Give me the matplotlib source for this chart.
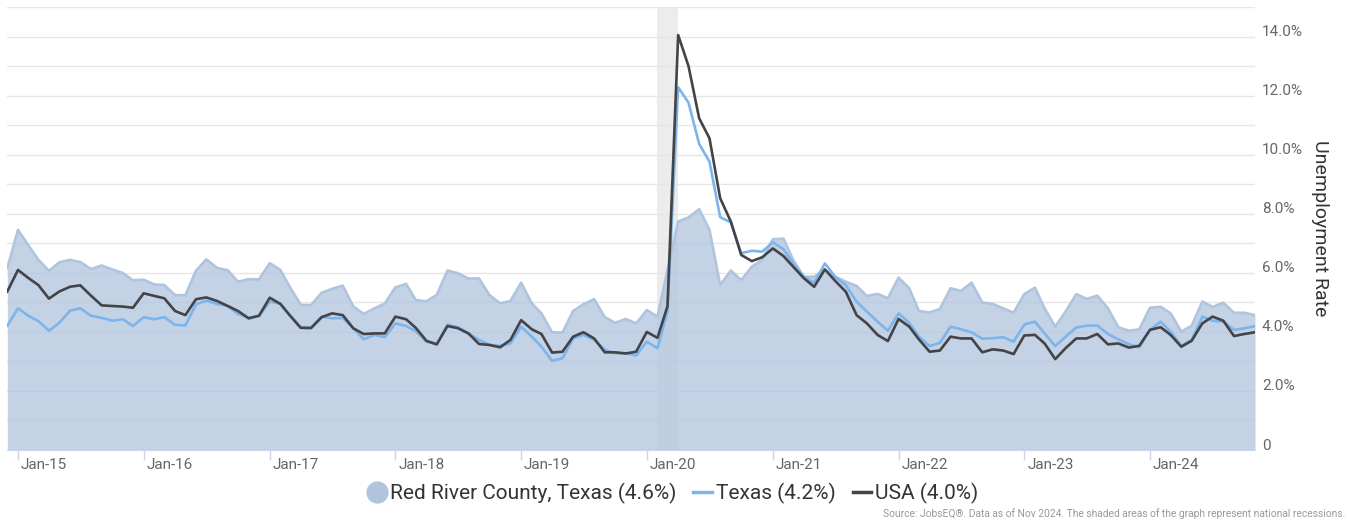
import matplotlib
matplotlib.use("Agg")
import matplotlib.pyplot as plt
import matplotlib.transforms as mtransforms
from matplotlib.lines import Line2D
import pandas as pd

# monthly unemployment rate (%), Dec 2014 - Nov 2024
months = pd.date_range("2014-12-01", periods=120, freq="MS")

red_river = [
    6.16, 7.46, 6.92, 6.45, 6.07, 6.36, 6.44, 6.37, 6.13, 6.25,
    6.12, 6.00, 5.75, 5.77, 5.61, 5.59, 5.25, 5.24, 6.08, 6.46,
    6.17, 6.09, 5.70, 5.79, 5.78, 6.33, 6.10, 5.51, 4.92, 4.91,
    5.33, 5.46, 5.57, 4.86, 4.61, 4.80, 4.96, 5.51, 5.63, 5.08,
    5.04, 5.25, 6.08, 5.99, 5.81, 5.81, 5.25, 4.97, 5.05, 5.67,
    4.97, 4.63, 3.99, 3.98, 4.71, 4.94, 5.11, 4.50, 4.31, 4.44,
    4.29, 4.74, 4.52, 6.10, 7.74, 7.88, 8.16, 7.46, 5.59, 6.08,
    5.76, 6.21, 6.44, 7.14, 7.16, 6.44, 5.87, 5.87, 6.10, 5.87,
    5.70, 5.56, 5.22, 5.29, 5.14, 5.84, 5.48, 4.71, 4.66, 4.78,
    5.48, 5.39, 5.67, 5.00, 4.95, 4.80, 4.65, 5.28, 5.50, 4.80,
    4.18, 4.69, 5.28, 5.12, 5.23, 4.80, 4.16, 4.04, 4.09, 4.82,
    4.85, 4.63, 4.01, 4.21, 5.03, 4.85, 4.99, 4.65, 4.65, 4.57,
]

texas = [
    4.21, 4.80, 4.54, 4.37, 4.04, 4.31, 4.72, 4.80, 4.55, 4.48,
    4.38, 4.43, 4.20, 4.50, 4.43, 4.50, 4.24, 4.22, 4.94, 5.06,
    4.95, 4.88, 4.61, 4.48, 4.54, 5.03, 4.95, 4.57, 4.16, 4.16,
    4.52, 4.46, 4.47, 4.12, 3.75, 3.90, 3.82, 4.29, 4.20, 4.03,
    3.67, 3.58, 4.25, 4.16, 3.95, 3.73, 3.56, 3.53, 3.61, 4.18,
    3.84, 3.50, 3.02, 3.11, 3.78, 3.90, 3.73, 3.39, 3.28, 3.28,
    3.20, 3.67, 3.45, 4.70, 12.29, 11.77, 10.37, 9.77, 7.89, 7.71,
    6.67, 6.75, 6.72, 7.04, 6.80, 6.32, 5.87, 5.67, 6.32, 5.87,
    5.58, 5.03, 4.69, 4.35, 4.04, 4.63, 4.31, 3.84, 3.52, 3.63,
    4.18, 4.09, 3.99, 3.77, 3.79, 3.82, 3.67, 4.25, 4.35, 3.95,
    3.52, 3.84, 4.15, 4.21, 4.22, 3.93, 3.75, 3.58, 3.48, 4.07,
    4.35, 4.01, 3.53, 3.73, 4.52, 4.38, 4.35, 4.07, 4.12, 4.20,
]

usa = [
    5.37, 6.10, 5.82, 5.59, 5.13, 5.37, 5.53, 5.58, 5.23, 4.90,
    4.88, 4.86, 4.82, 5.31, 5.22, 5.14, 4.71, 4.57, 5.11, 5.17,
    5.05, 4.88, 4.71, 4.46, 4.55, 5.16, 4.95, 4.55, 4.14, 4.13,
    4.50, 4.63, 4.57, 4.12, 3.93, 3.95, 3.95, 4.52, 4.43, 4.14,
    3.70, 3.58, 4.20, 4.13, 3.95, 3.59, 3.56, 3.48, 3.73, 4.40,
    4.09, 3.93, 3.30, 3.33, 3.84, 3.99, 3.78, 3.31, 3.31, 3.27,
    3.33, 4.00, 3.80, 4.87, 14.06, 13.01, 11.24, 10.56, 8.53, 7.74,
    6.61, 6.40, 6.53, 6.83, 6.57, 6.21, 5.82, 5.53, 6.12, 5.73,
    5.36, 4.57, 4.29, 3.90, 3.69, 4.44, 4.18, 3.75, 3.33, 3.37,
    3.84, 3.78, 3.78, 3.31, 3.41, 3.37, 3.25, 3.88, 3.90, 3.61,
    3.08, 3.45, 3.78, 3.78, 3.93, 3.58, 3.61, 3.47, 3.53, 4.07,
    4.16, 3.90, 3.50, 3.70, 4.29, 4.52, 4.38, 3.86, 3.93, 3.99,
]

year_ticks = pd.date_range("2015-01-01", "2024-01-01", freq="YS")
year_labels = [d.strftime("Jan-%y") for d in year_ticks]
recession = (pd.Timestamp("2020-02-01"), pd.Timestamp("2020-04-01"))
legend_labels = ["Red River County, Texas (4.6%)", "Texas (4.2%)", "USA (4.0%)"]

plt.rcParams["font.family"] = ["Roboto", "DejaVu Sans"]

W, H = 1348, 522
fig = plt.figure(figsize=(W / 100, H / 100), dpi=100)
ax = fig.add_axes([7.3 / W, 72 / H, (1255 - 7.3) / W, (450 - 7.3) / H])

ax.axvspan(recession[0], recession[1], color="#ececec", lw=0, zorder=0)
ax.fill_between(months, red_river, 0, color="#b0c4de", alpha=0.75, lw=0, zorder=2)
ax.plot(months, red_river, color="#b0c4de", lw=1.9, zorder=3)
ax.plot(months, texas, color="#7cb5ec", lw=1.9, zorder=4)
ax.plot(months, usa, color="#434348", lw=1.9, zorder=5)

ax.set_xlim(months[0], months[-1])
ax.set_ylim(0, 15)

# y axis on the right, grid every 1%, labels every 2%
ax.yaxis.tick_right()
ax.set_yticks(range(0, 16, 2))
ax.set_yticks(range(0, 16), minor=True)
ax.set_yticklabels(["0"] + [f"{v:.1f}%" for v in range(2, 16, 2)])
ax.grid(axis="y", which="both", color="#e6e6e6", lw=1, zorder=1)
ax.tick_params(axis="y", which="both", length=0, pad=5, labelsize=11, labelcolor="#666666")
for lab in ax.get_yticklabels():
    lab.set_horizontalalignment("left")
    lab.set_transform(lab.get_transform() + mtransforms.ScaledTranslation(0, 6 / 100, fig.dpi_scale_trans))

ax.set_xticks(year_ticks)
ax.set_xticklabels(year_labels)
ax.tick_params(axis="x", length=7, width=1, color="#ccd6eb", pad=-1, labelsize=11, labelcolor="#666666")
for lab in ax.get_xticklabels():
    lab.set_horizontalalignment("left")
    lab.set_transform(lab.get_transform() + mtransforms.ScaledTranslation(3 / 100, 0, fig.dpi_scale_trans))

for side in ["top", "left", "right"]:
    ax.spines[side].set_visible(False)
ax.spines["bottom"].set_color("#ccd6eb")
ax.set_axisbelow(True)

fig.text(1320 / W, 1 - 228 / H, "Unemployment Rate", rotation=-90, ha="center", va="center",
         fontsize=14, color="#333333")

handles = [
    Line2D([], [], ls="none", marker="o", markersize=15, color="#b0c4de"),
    Line2D([], [], color="#7cb5ec", lw=2.5),
    Line2D([], [], color="#434348", lw=2.5),
]
fig.legend(handles, legend_labels, loc="center", bbox_to_anchor=(673 / W, 1 - 493 / H), ncol=3,
           frameon=False, fontsize=15, labelcolor="#333333", handlelength=0.9, handletextpad=0.2,
           columnspacing=0.8)

fig.text(1345 / W, 1 - 514 / H,
         "Source: JobsEQ®. Data as of Nov 2024. The shaded areas of the graph represent national recessions.",
         ha="right", va="center", fontsize=7.4, color="#999999")

fig.savefig("out.png", dpi=100)
